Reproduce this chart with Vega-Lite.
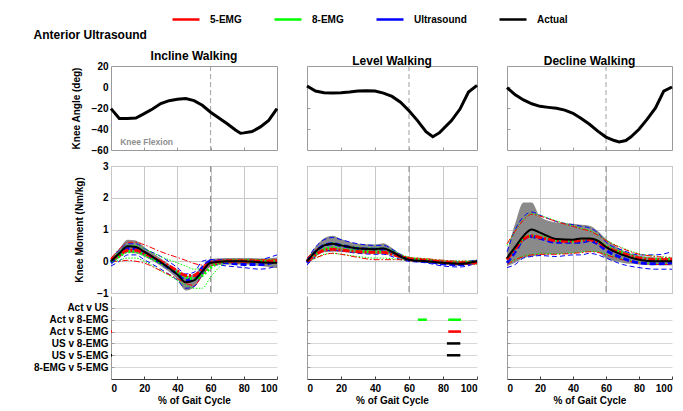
{
"$schema": "https://vega.github.io/schema/vega-lite/v6.json",
"background": "white",
"padding": {"left": 33, "top": 4, "right": 5, "bottom": 4},
"title": {"text": "Anterior Ultrasound", "anchor": "start", "fontSize": 12, "offset": 8, "dy": 45.5},
"config": {
  "font": "Liberation Sans",
  "view": {"stroke": "#9a9a9a"},
  "title": {"font": "Liberation Sans", "fontSize": 12, "fontWeight": "bold", "color": "black"},
  "axis": {"labelFont": "Liberation Sans", "labelFontSize": 10, "labelFontWeight": "bold", "labelColor": "black", "titleFont": "Liberation Sans", "titleFontSize": 10, "titleFontWeight": "bold", "titleColor": "black", "domain": false, "ticks": false, "grid": false, "labelPadding": 3, "labelOverlap": false},
  "legend": {"symbolType": "stroke", "symbolSize": 729, "symbolStrokeWidth": 2.5, "symbolDash": [1, 0], "labelFont": "Liberation Sans", "labelFontSize": 10, "labelFontWeight": "bold", "labelColor": "black", "columnPadding": 27, "labelOffset": 9, "padding": 0}
},
"datasets": {
  "toeoff": [{"x": 60}],
  "annot": [{"x": 5.5, "y": -52.3, "label": "Knee Flexion"}],
  "angle": [
    {"panel":"Incline","x":0,"angle":-20.6},{"panel":"Incline","x":5,"angle":-30},{"panel":"Incline","x":10,"angle":-30},{"panel":"Incline","x":15,"angle":-29.5},{"panel":"Incline","x":20,"angle":-25.4},{"panel":"Incline","x":25,"angle":-21},{"panel":"Incline","x":30,"angle":-15.8},{"panel":"Incline","x":35,"angle":-13},{"panel":"Incline","x":40,"angle":-11.7},{"panel":"Incline","x":45,"angle":-11},{"panel":"Incline","x":50,"angle":-13},{"panel":"Incline","x":55,"angle":-17.4},{"panel":"Incline","x":60,"angle":-24},{"panel":"Incline","x":65,"angle":-29.5},{"panel":"Incline","x":70,"angle":-35},{"panel":"Incline","x":75,"angle":-41},{"panel":"Incline","x":78,"angle":-44},{"panel":"Incline","x":80,"angle":-43.7},{"panel":"Incline","x":85,"angle":-42.4},{"panel":"Incline","x":90,"angle":-38},{"panel":"Incline","x":95,"angle":-31.8},{"panel":"Incline","x":100,"angle":-20.6},
    {"panel":"Level","x":0,"angle":1},{"panel":"Level","x":5,"angle":-3.9},{"panel":"Level","x":10,"angle":-5.5},{"panel":"Level","x":15,"angle":-5.8},{"panel":"Level","x":20,"angle":-5.5},{"panel":"Level","x":25,"angle":-4.8},{"panel":"Level","x":30,"angle":-3.9},{"panel":"Level","x":35,"angle":-3.5},{"panel":"Level","x":40,"angle":-3.9},{"panel":"Level","x":45,"angle":-5.8},{"panel":"Level","x":50,"angle":-9},{"panel":"Level","x":55,"angle":-14.5},{"panel":"Level","x":60,"angle":-22.6},{"panel":"Level","x":65,"angle":-32},{"panel":"Level","x":70,"angle":-42.5},{"panel":"Level","x":74,"angle":-47.4},{"panel":"Level","x":78,"angle":-43.5},{"panel":"Level","x":85,"angle":-32},{"panel":"Level","x":90,"angle":-21},{"panel":"Level","x":95,"angle":-4.8},{"panel":"Level","x":100,"angle":1.6},
    {"panel":"Decline","x":0,"angle":-0.6},{"panel":"Decline","x":5,"angle":-7.4},{"panel":"Decline","x":10,"angle":-12.3},{"panel":"Decline","x":15,"angle":-16},{"panel":"Decline","x":20,"angle":-18.4},{"panel":"Decline","x":25,"angle":-19.4},{"panel":"Decline","x":30,"angle":-20.3},{"panel":"Decline","x":35,"angle":-22},{"panel":"Decline","x":40,"angle":-25},{"panel":"Decline","x":45,"angle":-30},{"panel":"Decline","x":50,"angle":-35.5},{"panel":"Decline","x":55,"angle":-42},{"panel":"Decline","x":60,"angle":-47.7},{"panel":"Decline","x":65,"angle":-51},{"panel":"Decline","x":68,"angle":-52.3},{"panel":"Decline","x":72,"angle":-51},{"panel":"Decline","x":75,"angle":-47.7},{"panel":"Decline","x":80,"angle":-40.3},{"panel":"Decline","x":85,"angle":-30.6},{"panel":"Decline","x":90,"angle":-20},{"panel":"Decline","x":95,"angle":-4},{"panel":"Decline","x":100,"angle":0}
  ],
  "sig": [
    {"panel":"Incline","comp":"Act v 5-EMG","start":0,"end":0.6},
    {"panel":"Incline","comp":"US v 5-EMG","start":0,"end":0.6},
    {"panel":"Level","comp":"Act v 8-EMG","start":65.2,"end":70.5},
    {"panel":"Level","comp":"Act v 8-EMG","start":83.1,"end":90.6},
    {"panel":"Level","comp":"Act v 5-EMG","start":83.1,"end":90.6},
    {"panel":"Level","comp":"US v 8-EMG","start":82.3,"end":90.2},
    {"panel":"Level","comp":"US v 5-EMG","start":82.3,"end":90.2}
  ],
  "moment": [
    {"panel":"Incline","series":"Actual","x":0,"mean":0,"lo":-0.1,"hi":0.1},
    {"panel":"Incline","series":"Actual","x":5,"mean":0.25,"lo":0.1,"hi":0.4},
    {"panel":"Incline","series":"Actual","x":10,"mean":0.47,"lo":0.27,"hi":0.68},
    {"panel":"Incline","series":"Actual","x":15,"mean":0.45,"lo":0.25,"hi":0.65},
    {"panel":"Incline","series":"Actual","x":20,"mean":0.3,"lo":0.15,"hi":0.45},
    {"panel":"Incline","series":"Actual","x":30,"mean":-0.03,"lo":-0.15,"hi":0.09},
    {"panel":"Incline","series":"Actual","x":40,"mean":-0.42,"lo":-0.57,"hi":-0.27},
    {"panel":"Incline","series":"Actual","x":45,"mean":-0.66,"lo":-0.92,"hi":-0.46},
    {"panel":"Incline","series":"Actual","x":50,"mean":-0.6,"lo":-0.82,"hi":-0.4},
    {"panel":"Incline","series":"Actual","x":55,"mean":-0.32,"lo":-0.48,"hi":-0.16},
    {"panel":"Incline","series":"Actual","x":60,"mean":-0.05,"lo":-0.17,"hi":0.07},
    {"panel":"Incline","series":"Actual","x":70,"mean":0,"lo":-0.1,"hi":0.1},
    {"panel":"Incline","series":"Actual","x":80,"mean":0,"lo":-0.1,"hi":0.1},
    {"panel":"Incline","series":"Actual","x":90,"mean":-0.03,"lo":-0.15,"hi":0.09},
    {"panel":"Incline","series":"Actual","x":100,"mean":-0.05,"lo":-0.22,"hi":0.12},
    {"panel":"Incline","series":"5-EMG","x":0,"mean":0.05,"lo":0,"hi":0.1},
    {"panel":"Incline","series":"5-EMG","x":5,"mean":0.2,"lo":0,"hi":0.38},
    {"panel":"Incline","series":"5-EMG","x":10,"mean":0.35,"lo":0.03,"hi":0.6},
    {"panel":"Incline","series":"5-EMG","x":15,"mean":0.35,"lo":0,"hi":0.6},
    {"panel":"Incline","series":"5-EMG","x":20,"mean":0.25,"lo":-0.06,"hi":0.52},
    {"panel":"Incline","series":"5-EMG","x":30,"mean":0,"lo":-0.3,"hi":0.3},
    {"panel":"Incline","series":"5-EMG","x":40,"mean":-0.3,"lo":-0.55,"hi":0.12},
    {"panel":"Incline","series":"5-EMG","x":45,"mean":-0.45,"lo":-0.7,"hi":0.03},
    {"panel":"Incline","series":"5-EMG","x":50,"mean":-0.45,"lo":-0.76,"hi":-0.07},
    {"panel":"Incline","series":"5-EMG","x":55,"mean":-0.25,"lo":-0.45,"hi":-0.12},
    {"panel":"Incline","series":"5-EMG","x":60,"mean":-0.05,"lo":-0.15,"hi":0},
    {"panel":"Incline","series":"5-EMG","x":70,"mean":0,"lo":-0.05,"hi":0.05},
    {"panel":"Incline","series":"5-EMG","x":80,"mean":0,"lo":-0.05,"hi":0.05},
    {"panel":"Incline","series":"5-EMG","x":90,"mean":0,"lo":-0.05,"hi":0.05},
    {"panel":"Incline","series":"5-EMG","x":100,"mean":0,"lo":-0.05,"hi":0.05},
    {"panel":"Incline","series":"8-EMG","x":0,"mean":0,"lo":-0.05,"hi":0.1},
    {"panel":"Incline","series":"8-EMG","x":5,"mean":0.15,"lo":0.03,"hi":0.3},
    {"panel":"Incline","series":"8-EMG","x":10,"mean":0.3,"lo":0.1,"hi":0.5},
    {"panel":"Incline","series":"8-EMG","x":15,"mean":0.3,"lo":0.1,"hi":0.5},
    {"panel":"Incline","series":"8-EMG","x":20,"mean":0.2,"lo":0,"hi":0.4},
    {"panel":"Incline","series":"8-EMG","x":30,"mean":-0.05,"lo":-0.3,"hi":0.15},
    {"panel":"Incline","series":"8-EMG","x":40,"mean":-0.35,"lo":-0.6,"hi":-0.05},
    {"panel":"Incline","series":"8-EMG","x":45,"mean":-0.5,"lo":-0.75,"hi":-0.15},
    {"panel":"Incline","series":"8-EMG","x":50,"mean":-0.55,"lo":-0.85,"hi":-0.25},
    {"panel":"Incline","series":"8-EMG","x":55,"mean":-0.45,"lo":-0.85,"hi":-0.22},
    {"panel":"Incline","series":"8-EMG","x":60,"mean":-0.2,"lo":-0.5,"hi":-0.08},
    {"panel":"Incline","series":"8-EMG","x":70,"mean":0,"lo":-0.05,"hi":0.05},
    {"panel":"Incline","series":"8-EMG","x":80,"mean":0,"lo":-0.05,"hi":0.05},
    {"panel":"Incline","series":"8-EMG","x":90,"mean":0,"lo":-0.05,"hi":0.05},
    {"panel":"Incline","series":"8-EMG","x":100,"mean":0,"lo":-0.05,"hi":0.05},
    {"panel":"Incline","series":"Ultrasound","x":0,"mean":-0.05,"lo":-0.15,"hi":0.05},
    {"panel":"Incline","series":"Ultrasound","x":5,"mean":0.2,"lo":0,"hi":0.35},
    {"panel":"Incline","series":"Ultrasound","x":10,"mean":0.4,"lo":0.2,"hi":0.55},
    {"panel":"Incline","series":"Ultrasound","x":15,"mean":0.4,"lo":0.2,"hi":0.55},
    {"panel":"Incline","series":"Ultrasound","x":20,"mean":0.25,"lo":0.05,"hi":0.4},
    {"panel":"Incline","series":"Ultrasound","x":30,"mean":-0.05,"lo":-0.25,"hi":0.15},
    {"panel":"Incline","series":"Ultrasound","x":40,"mean":-0.4,"lo":-0.6,"hi":-0.2},
    {"panel":"Incline","series":"Ultrasound","x":45,"mean":-0.6,"lo":-0.85,"hi":-0.4},
    {"panel":"Incline","series":"Ultrasound","x":50,"mean":-0.55,"lo":-0.8,"hi":-0.35},
    {"panel":"Incline","series":"Ultrasound","x":55,"mean":-0.2,"lo":-0.4,"hi":0},
    {"panel":"Incline","series":"Ultrasound","x":60,"mean":0,"lo":-0.1,"hi":0.05},
    {"panel":"Incline","series":"Ultrasound","x":70,"mean":-0.05,"lo":-0.15,"hi":0.05},
    {"panel":"Incline","series":"Ultrasound","x":80,"mean":-0.1,"lo":-0.2,"hi":0},
    {"panel":"Incline","series":"Ultrasound","x":90,"mean":-0.1,"lo":-0.25,"hi":0.05},
    {"panel":"Incline","series":"Ultrasound","x":100,"mean":0,"lo":-0.15,"hi":0.2},
    {"panel":"Level","series":"Actual","x":0,"mean":0,"lo":-0.08,"hi":0.08},
    {"panel":"Level","series":"Actual","x":5,"mean":0.3,"lo":0.15,"hi":0.45},
    {"panel":"Level","series":"Actual","x":10,"mean":0.5,"lo":0.28,"hi":0.72},
    {"panel":"Level","series":"Actual","x":15,"mean":0.55,"lo":0.3,"hi":0.8},
    {"panel":"Level","series":"Actual","x":20,"mean":0.5,"lo":0.3,"hi":0.7},
    {"panel":"Level","series":"Actual","x":30,"mean":0.4,"lo":0.25,"hi":0.55},
    {"panel":"Level","series":"Actual","x":40,"mean":0.38,"lo":0.23,"hi":0.53},
    {"panel":"Level","series":"Actual","x":45,"mean":0.4,"lo":0.23,"hi":0.57},
    {"panel":"Level","series":"Actual","x":50,"mean":0.3,"lo":0.18,"hi":0.42},
    {"panel":"Level","series":"Actual","x":55,"mean":0.15,"lo":0.07,"hi":0.23},
    {"panel":"Level","series":"Actual","x":60,"mean":0.05,"lo":0,"hi":0.1},
    {"panel":"Level","series":"Actual","x":70,"mean":0,"lo":-0.05,"hi":0.05},
    {"panel":"Level","series":"Actual","x":80,"mean":-0.05,"lo":-0.1,"hi":0},
    {"panel":"Level","series":"Actual","x":90,"mean":-0.08,"lo":-0.14,"hi":-0.02},
    {"panel":"Level","series":"Actual","x":100,"mean":0,"lo":-0.05,"hi":0.05},
    {"panel":"Level","series":"5-EMG","x":0,"mean":0,"lo":-0.05,"hi":0.1},
    {"panel":"Level","series":"5-EMG","x":5,"mean":0.2,"lo":0.1,"hi":0.35},
    {"panel":"Level","series":"5-EMG","x":10,"mean":0.35,"lo":0.2,"hi":0.5},
    {"panel":"Level","series":"5-EMG","x":15,"mean":0.38,"lo":0.25,"hi":0.55},
    {"panel":"Level","series":"5-EMG","x":20,"mean":0.35,"lo":0.22,"hi":0.5},
    {"panel":"Level","series":"5-EMG","x":30,"mean":0.3,"lo":0.12,"hi":0.42},
    {"panel":"Level","series":"5-EMG","x":40,"mean":0.28,"lo":0.05,"hi":0.4},
    {"panel":"Level","series":"5-EMG","x":45,"mean":0.28,"lo":0.05,"hi":0.38},
    {"panel":"Level","series":"5-EMG","x":50,"mean":0.22,"lo":0.05,"hi":0.3},
    {"panel":"Level","series":"5-EMG","x":55,"mean":0.15,"lo":0.05,"hi":0.2},
    {"panel":"Level","series":"5-EMG","x":60,"mean":0.08,"lo":0.02,"hi":0.12},
    {"panel":"Level","series":"5-EMG","x":70,"mean":0.03,"lo":-0.02,"hi":0.08},
    {"panel":"Level","series":"5-EMG","x":80,"mean":-0.02,"lo":-0.07,"hi":0.03},
    {"panel":"Level","series":"5-EMG","x":90,"mean":-0.05,"lo":-0.1,"hi":0},
    {"panel":"Level","series":"5-EMG","x":100,"mean":-0.05,"lo":-0.1,"hi":0},
    {"panel":"Level","series":"8-EMG","x":0,"mean":0,"lo":-0.05,"hi":0.1},
    {"panel":"Level","series":"8-EMG","x":5,"mean":0.22,"lo":0.1,"hi":0.35},
    {"panel":"Level","series":"8-EMG","x":10,"mean":0.38,"lo":0.22,"hi":0.52},
    {"panel":"Level","series":"8-EMG","x":15,"mean":0.42,"lo":0.25,"hi":0.58},
    {"panel":"Level","series":"8-EMG","x":20,"mean":0.38,"lo":0.22,"hi":0.52},
    {"panel":"Level","series":"8-EMG","x":30,"mean":0.33,"lo":0.15,"hi":0.45},
    {"panel":"Level","series":"8-EMG","x":40,"mean":0.3,"lo":0.1,"hi":0.42},
    {"panel":"Level","series":"8-EMG","x":45,"mean":0.3,"lo":0.1,"hi":0.42},
    {"panel":"Level","series":"8-EMG","x":50,"mean":0.25,"lo":0.08,"hi":0.35},
    {"panel":"Level","series":"8-EMG","x":55,"mean":0.15,"lo":0.05,"hi":0.22},
    {"panel":"Level","series":"8-EMG","x":60,"mean":0.08,"lo":0.02,"hi":0.13},
    {"panel":"Level","series":"8-EMG","x":70,"mean":0.03,"lo":-0.02,"hi":0.08},
    {"panel":"Level","series":"8-EMG","x":80,"mean":-0.02,"lo":-0.07,"hi":0.03},
    {"panel":"Level","series":"8-EMG","x":90,"mean":-0.04,"lo":-0.09,"hi":0.01},
    {"panel":"Level","series":"8-EMG","x":100,"mean":-0.04,"lo":-0.09,"hi":0.01},
    {"panel":"Level","series":"Ultrasound","x":0,"mean":-0.05,"lo":-0.12,"hi":0.05},
    {"panel":"Level","series":"Ultrasound","x":5,"mean":0.3,"lo":0.15,"hi":0.45},
    {"panel":"Level","series":"Ultrasound","x":10,"mean":0.5,"lo":0.32,"hi":0.68},
    {"panel":"Level","series":"Ultrasound","x":15,"mean":0.55,"lo":0.35,"hi":0.75},
    {"panel":"Level","series":"Ultrasound","x":20,"mean":0.5,"lo":0.32,"hi":0.68},
    {"panel":"Level","series":"Ultrasound","x":30,"mean":0.4,"lo":0.25,"hi":0.55},
    {"panel":"Level","series":"Ultrasound","x":40,"mean":0.38,"lo":0.22,"hi":0.5},
    {"panel":"Level","series":"Ultrasound","x":45,"mean":0.38,"lo":0.22,"hi":0.5},
    {"panel":"Level","series":"Ultrasound","x":50,"mean":0.28,"lo":0.15,"hi":0.38},
    {"panel":"Level","series":"Ultrasound","x":55,"mean":0.15,"lo":0.05,"hi":0.22},
    {"panel":"Level","series":"Ultrasound","x":60,"mean":0.05,"lo":0,"hi":0.1},
    {"panel":"Level","series":"Ultrasound","x":70,"mean":0,"lo":-0.05,"hi":0.05},
    {"panel":"Level","series":"Ultrasound","x":80,"mean":-0.08,"lo":-0.15,"hi":0},
    {"panel":"Level","series":"Ultrasound","x":90,"mean":-0.1,"lo":-0.18,"hi":-0.02},
    {"panel":"Level","series":"Ultrasound","x":100,"mean":0,"lo":-0.05,"hi":0.05},
    {"panel":"Decline","series":"Actual","x":0,"mean":0.1,"lo":-0.15,"hi":0.3},
    {"panel":"Decline","series":"Actual","x":5,"mean":0.45,"lo":-0.05,"hi":1.2},
    {"panel":"Decline","series":"Actual","x":10,"mean":0.8,"lo":0.1,"hi":1.85},
    {"panel":"Decline","series":"Actual","x":15,"mean":1.0,"lo":0.15,"hi":1.85},
    {"panel":"Decline","series":"Actual","x":20,"mean":0.9,"lo":0.2,"hi":1.4},
    {"panel":"Decline","series":"Actual","x":30,"mean":0.7,"lo":0.22,"hi":1.22},
    {"panel":"Decline","series":"Actual","x":40,"mean":0.68,"lo":0.25,"hi":1.18},
    {"panel":"Decline","series":"Actual","x":45,"mean":0.72,"lo":0.28,"hi":1.15},
    {"panel":"Decline","series":"Actual","x":50,"mean":0.72,"lo":0.3,"hi":1.12},
    {"panel":"Decline","series":"Actual","x":55,"mean":0.65,"lo":0.28,"hi":0.95},
    {"panel":"Decline","series":"Actual","x":60,"mean":0.45,"lo":0.1,"hi":0.7},
    {"panel":"Decline","series":"Actual","x":70,"mean":0.2,"lo":-0.05,"hi":0.35},
    {"panel":"Decline","series":"Actual","x":80,"mean":0.05,"lo":-0.1,"hi":0.18},
    {"panel":"Decline","series":"Actual","x":90,"mean":0,"lo":-0.12,"hi":0.12},
    {"panel":"Decline","series":"Actual","x":100,"mean":0,"lo":-0.13,"hi":0.1},
    {"panel":"Decline","series":"5-EMG","x":0,"mean":0.05,"lo":-0.1,"hi":0.55},
    {"panel":"Decline","series":"5-EMG","x":5,"mean":0.4,"lo":0.05,"hi":0.95},
    {"panel":"Decline","series":"5-EMG","x":10,"mean":0.7,"lo":0.15,"hi":1.3},
    {"panel":"Decline","series":"5-EMG","x":15,"mean":0.8,"lo":0.2,"hi":1.48},
    {"panel":"Decline","series":"5-EMG","x":20,"mean":0.75,"lo":0.22,"hi":1.42},
    {"panel":"Decline","series":"5-EMG","x":30,"mean":0.65,"lo":0.22,"hi":1.25},
    {"panel":"Decline","series":"5-EMG","x":40,"mean":0.63,"lo":0.25,"hi":1.1},
    {"panel":"Decline","series":"5-EMG","x":45,"mean":0.66,"lo":0.27,"hi":1.02},
    {"panel":"Decline","series":"5-EMG","x":50,"mean":0.68,"lo":0.3,"hi":0.95},
    {"panel":"Decline","series":"5-EMG","x":55,"mean":0.6,"lo":0.28,"hi":0.82},
    {"panel":"Decline","series":"5-EMG","x":60,"mean":0.45,"lo":0.2,"hi":0.65},
    {"panel":"Decline","series":"5-EMG","x":70,"mean":0.25,"lo":0.05,"hi":0.4},
    {"panel":"Decline","series":"5-EMG","x":80,"mean":0.1,"lo":-0.05,"hi":0.22},
    {"panel":"Decline","series":"5-EMG","x":90,"mean":0.05,"lo":-0.1,"hi":0.15},
    {"panel":"Decline","series":"5-EMG","x":100,"mean":0.05,"lo":-0.1,"hi":0.1},
    {"panel":"Decline","series":"8-EMG","x":0,"mean":0.05,"lo":-0.08,"hi":0.5},
    {"panel":"Decline","series":"8-EMG","x":5,"mean":0.42,"lo":0.07,"hi":0.95},
    {"panel":"Decline","series":"8-EMG","x":10,"mean":0.72,"lo":0.17,"hi":1.32},
    {"panel":"Decline","series":"8-EMG","x":15,"mean":0.8,"lo":0.22,"hi":1.5},
    {"panel":"Decline","series":"8-EMG","x":20,"mean":0.77,"lo":0.24,"hi":1.44},
    {"panel":"Decline","series":"8-EMG","x":30,"mean":0.66,"lo":0.24,"hi":1.27},
    {"panel":"Decline","series":"8-EMG","x":40,"mean":0.64,"lo":0.27,"hi":1.12},
    {"panel":"Decline","series":"8-EMG","x":45,"mean":0.66,"lo":0.29,"hi":1.04},
    {"panel":"Decline","series":"8-EMG","x":50,"mean":0.7,"lo":0.32,"hi":0.97},
    {"panel":"Decline","series":"8-EMG","x":55,"mean":0.63,"lo":0.3,"hi":0.84},
    {"panel":"Decline","series":"8-EMG","x":60,"mean":0.47,"lo":0.22,"hi":0.67},
    {"panel":"Decline","series":"8-EMG","x":70,"mean":0.27,"lo":0.07,"hi":0.42},
    {"panel":"Decline","series":"8-EMG","x":80,"mean":0.12,"lo":-0.03,"hi":0.24},
    {"panel":"Decline","series":"8-EMG","x":90,"mean":0.06,"lo":-0.08,"hi":0.16},
    {"panel":"Decline","series":"8-EMG","x":100,"mean":0.05,"lo":-0.08,"hi":0.12},
    {"panel":"Decline","series":"Ultrasound","x":0,"mean":-0.05,"lo":-0.2,"hi":0.3},
    {"panel":"Decline","series":"Ultrasound","x":5,"mean":0.3,"lo":-0.1,"hi":1.0},
    {"panel":"Decline","series":"Ultrasound","x":10,"mean":0.7,"lo":0.1,"hi":1.4},
    {"panel":"Decline","series":"Ultrasound","x":15,"mean":0.78,"lo":0.15,"hi":1.55},
    {"panel":"Decline","series":"Ultrasound","x":20,"mean":0.72,"lo":0.18,"hi":1.45},
    {"panel":"Decline","series":"Ultrasound","x":30,"mean":0.6,"lo":0.15,"hi":1.25},
    {"panel":"Decline","series":"Ultrasound","x":40,"mean":0.6,"lo":0.2,"hi":1.15},
    {"panel":"Decline","series":"Ultrasound","x":45,"mean":0.6,"lo":0.2,"hi":1.1},
    {"panel":"Decline","series":"Ultrasound","x":50,"mean":0.65,"lo":0.25,"hi":1.05},
    {"panel":"Decline","series":"Ultrasound","x":55,"mean":0.55,"lo":0.2,"hi":0.9},
    {"panel":"Decline","series":"Ultrasound","x":60,"mean":0.35,"lo":0.1,"hi":0.6},
    {"panel":"Decline","series":"Ultrasound","x":70,"mean":0.1,"lo":-0.1,"hi":0.35},
    {"panel":"Decline","series":"Ultrasound","x":80,"mean":-0.05,"lo":-0.2,"hi":0.2},
    {"panel":"Decline","series":"Ultrasound","x":90,"mean":-0.08,"lo":-0.25,"hi":0.2},
    {"panel":"Decline","series":"Ultrasound","x":100,"mean":-0.05,"lo":-0.25,"hi":0.3}
  ]
},
"columns": 3,
"bounds": "flush",
"align": "each",
"spacing": {"row": 3, "column": 30},
"resolve": {"scale": {"color": "shared", "stroke": "shared"}, "legend": {"color": "shared"}},
"concat": [
  {"width": 166, "height": 84, "title": {"text": "Incline Walking", "offset": -2},
   "layer": [
    {"data": {"name": "toeoff"}, "mark": {"type": "rule", "color": "#a0a0a0", "strokeDash": [5, 3], "strokeWidth": 1},
     "encoding": {"x": {"field": "x", "type": "quantitative", "scale": {"domain": [0, 100], "nice": false}, "axis": {"values": [20, 40, 60, 80], "tickCount": 20, "labels": false, "title": null, "ticks": true, "tickSize": -3, "tickColor": "#9a9a9a"}}}},
    {"data": {"name": "angle"}, "transform": [{"filter": "datum.panel === 'Incline'"}], "mark": {"type": "line", "color": "black", "strokeWidth": 3},
     "encoding": {"x": {"field": "x", "type": "quantitative"}, "y": {"field": "angle", "type": "quantitative", "scale": {"domain": [-60, 20], "nice": false}, "axis": {"values": [-60, -40, -20, 0, 20], "tickCount": 20, "format": "d", "title": "Knee Angle (deg)", "titlePadding": 10}}}},
    {"data": {"name": "annot"}, "mark": {"type": "text", "align": "left", "baseline": "middle", "color": "#8f8f8f", "fontSize": 8.5, "fontWeight": "bold", "font": "Liberation Sans"},
     "encoding": {"x": {"field": "x", "type": "quantitative"}, "y": {"field": "y", "type": "quantitative"}, "text": {"field": "label"}}}
   ]},
  {"width": 170, "height": 84, "title": {"text": "Level Walking", "offset": -2},
   "layer": [
    {"data": {"name": "toeoff"}, "mark": {"type": "rule", "color": "#a0a0a0", "strokeDash": [5, 3], "strokeWidth": 1},
     "encoding": {"x": {"field": "x", "type": "quantitative", "scale": {"domain": [0, 100], "nice": false}, "axis": {"values": [20, 40, 60, 80], "tickCount": 20, "labels": false, "title": null, "ticks": true, "tickSize": -3, "tickColor": "#9a9a9a"}}}},
    {"data": {"name": "angle"}, "transform": [{"filter": "datum.panel === 'Level'"}], "mark": {"type": "line", "color": "black", "strokeWidth": 3},
     "encoding": {"x": {"field": "x", "type": "quantitative"}, "y": {"field": "angle", "type": "quantitative", "scale": {"domain": [-60, 20], "nice": false}, "axis": {"values": [-40, -20, 0], "tickCount": 20, "labels": false, "title": null, "ticks": true, "tickSize": -3, "tickColor": "#9a9a9a"}}}}
   ]},
  {"width": 165, "height": 84, "title": {"text": "Decline Walking", "offset": -2},
   "layer": [
    {"data": {"name": "toeoff"}, "mark": {"type": "rule", "color": "#a0a0a0", "strokeDash": [5, 3], "strokeWidth": 1},
     "encoding": {"x": {"field": "x", "type": "quantitative", "scale": {"domain": [0, 100], "nice": false}, "axis": {"values": [20, 40, 60, 80], "tickCount": 20, "labels": false, "title": null, "ticks": true, "tickSize": -3, "tickColor": "#9a9a9a"}}}},
    {"data": {"name": "angle"}, "transform": [{"filter": "datum.panel === 'Decline'"}], "mark": {"type": "line", "color": "black", "strokeWidth": 3},
     "encoding": {"x": {"field": "x", "type": "quantitative"}, "y": {"field": "angle", "type": "quantitative", "scale": {"domain": [-60, 20], "nice": false}, "axis": {"values": [-40, -20, 0], "tickCount": 20, "labels": false, "title": null, "ticks": true, "tickSize": -3, "tickColor": "#9a9a9a"}}}}
   ]},
  {"width": 166, "height": 10, "view": {"stroke": null}, "data": {"values": []}, "mark": "point"},
  {"width": 170, "height": 10, "view": {"stroke": null}, "data": {"values": []}, "mark": "point"},
  {"width": 165, "height": 10, "view": {"stroke": null}, "data": {"values": []}, "mark": "point"},
  {"width": 166, "height": 127,
   "layer": [
    {"data": {"name": "moment"}, "transform": [{"filter": "datum.panel === 'Incline' && datum.series === 'Actual'"}], "mark": {"type": "area", "color": "#8a8a8a", "opacity": 1, "interpolate": "monotone"},
     "encoding": {"x": {"field": "x", "type": "quantitative", "scale": {"domain": [0, 100], "nice": false}, "axis": {"values": [0, 20, 40, 60, 80, 100], "tickCount": 20, "labels": false, "title": null, "grid": true, "gridColor": "#c8c8c8"}},
      "y": {"field": "lo", "type": "quantitative", "scale": {"domain": [-1, 3], "nice": false}, "axis": {"values": [-1, 0, 1, 2, 3], "tickCount": 20, "format": "d", "grid": true, "gridColor": "#c8c8c8", "title": "Knee Moment (Nm/kg)", "titlePadding": 12}}, "y2": {"field": "hi"}}},
    {"data": {"name": "toeoff"}, "mark": {"type": "rule", "color": "#8a8a8a", "strokeDash": [6, 4], "strokeWidth": 1}, "encoding": {"x": {"field": "x", "type": "quantitative"}}},
    {"data": {"name": "moment"}, "transform": [{"filter": "datum.panel === 'Incline' && datum.series === 'Ultrasound'"}, {"fold": ["lo", "hi"], "as": ["stat", "value"]}], "mark": {"type": "line", "strokeDash": [5, 3], "strokeWidth": 1, "interpolate": "monotone"},
     "encoding": {"x": {"field": "x", "type": "quantitative"}, "y": {"field": "value", "type": "quantitative"}, "detail": {"field": "stat"},
      "color": {"field": "series", "type": "nominal", "scale": {"domain": ["5-EMG", "8-EMG", "Ultrasound", "Actual"], "range": ["#ff0000", "#00ff00", "#0000ff", "#000000"]}, "legend": {"title": null, "orient": "none", "legendX": 60, "legendY": -61.5, "direction": "horizontal", "symbolStrokeWidth": 2.5, "symbolDash": [1, 0], "encode": {"symbols": {"update": {"strokeDash": {"value": [1, 0]}}}}}}}},
    {"data": {"name": "moment"}, "transform": [{"filter": "datum.panel === 'Incline' && datum.series === '8-EMG'"}, {"fold": ["lo", "hi"], "as": ["stat", "value"]}], "mark": {"type": "line", "strokeDash": [1.5, 1.5], "strokeWidth": 1, "interpolate": "monotone"},
     "encoding": {"x": {"field": "x", "type": "quantitative"}, "y": {"field": "value", "type": "quantitative"}, "detail": {"field": "stat"}, "color": {"field": "series", "type": "nominal"}}},
    {"data": {"name": "moment"}, "transform": [{"filter": "datum.panel === 'Incline' && datum.series === '5-EMG'"}, {"fold": ["lo", "hi"], "as": ["stat", "value"]}], "mark": {"type": "line", "strokeDash": [6, 2, 1.5, 2], "strokeWidth": 1, "interpolate": "monotone"},
     "encoding": {"x": {"field": "x", "type": "quantitative"}, "y": {"field": "value", "type": "quantitative"}, "detail": {"field": "stat"}, "color": {"field": "series", "type": "nominal"}}},
    {"data": {"name": "moment"}, "transform": [{"filter": "datum.panel === 'Incline' && datum.series === 'Ultrasound'"}], "mark": {"type": "line", "strokeDash": [6, 3], "strokeWidth": 3, "interpolate": "monotone"},
     "encoding": {"x": {"field": "x", "type": "quantitative"}, "y": {"field": "mean", "type": "quantitative"}, "color": {"field": "series", "type": "nominal"}}},
    {"data": {"name": "moment"}, "transform": [{"filter": "datum.panel === 'Incline' && datum.series === '8-EMG'"}], "mark": {"type": "line", "strokeDash": [2, 2], "strokeWidth": 3, "interpolate": "monotone"},
     "encoding": {"x": {"field": "x", "type": "quantitative"}, "y": {"field": "mean", "type": "quantitative"}, "color": {"field": "series", "type": "nominal"}}},
    {"data": {"name": "moment"}, "transform": [{"filter": "datum.panel === 'Incline' && datum.series === '5-EMG'"}], "mark": {"type": "line", "strokeDash": [7, 2, 2, 2], "strokeWidth": 3, "interpolate": "monotone"},
     "encoding": {"x": {"field": "x", "type": "quantitative"}, "y": {"field": "mean", "type": "quantitative"}, "color": {"field": "series", "type": "nominal"}}},
    {"data": {"name": "moment"}, "transform": [{"filter": "datum.panel === 'Incline' && datum.series === 'Actual'"}], "mark": {"type": "line", "strokeWidth": 2, "interpolate": "monotone"},
     "encoding": {"x": {"field": "x", "type": "quantitative"}, "y": {"field": "mean", "type": "quantitative"}, "color": {"field": "series", "type": "nominal"}}}
   ]},
  {"width": 170, "height": 127,
   "layer": [
    {"data": {"name": "moment"}, "transform": [{"filter": "datum.panel === 'Level' && datum.series === 'Actual'"}], "mark": {"type": "area", "color": "#8a8a8a", "opacity": 1, "interpolate": "monotone"},
     "encoding": {"x": {"field": "x", "type": "quantitative", "scale": {"domain": [0, 100], "nice": false}, "axis": {"values": [0, 20, 40, 60, 80, 100], "tickCount": 20, "labels": false, "title": null, "grid": true, "gridColor": "#c8c8c8"}},
      "y": {"field": "lo", "type": "quantitative", "scale": {"domain": [-1, 3], "nice": false}, "axis": {"values": [-1, 0, 1, 2, 3], "tickCount": 20, "grid": true, "gridColor": "#c8c8c8", "labels": false, "title": null}}, "y2": {"field": "hi"}}},
    {"data": {"name": "toeoff"}, "mark": {"type": "rule", "color": "#8a8a8a", "strokeDash": [6, 4], "strokeWidth": 1}, "encoding": {"x": {"field": "x", "type": "quantitative"}}},
    {"data": {"name": "moment"}, "transform": [{"filter": "datum.panel === 'Level' && datum.series === 'Ultrasound'"}, {"fold": ["lo", "hi"], "as": ["stat", "value"]}], "mark": {"type": "line", "strokeDash": [5, 3], "strokeWidth": 1, "interpolate": "monotone"},
     "encoding": {"x": {"field": "x", "type": "quantitative"}, "y": {"field": "value", "type": "quantitative"}, "detail": {"field": "stat"}, "color": {"field": "series", "type": "nominal"}}},
    {"data": {"name": "moment"}, "transform": [{"filter": "datum.panel === 'Level' && datum.series === '8-EMG'"}, {"fold": ["lo", "hi"], "as": ["stat", "value"]}], "mark": {"type": "line", "strokeDash": [1.5, 1.5], "strokeWidth": 1, "interpolate": "monotone"},
     "encoding": {"x": {"field": "x", "type": "quantitative"}, "y": {"field": "value", "type": "quantitative"}, "detail": {"field": "stat"}, "color": {"field": "series", "type": "nominal"}}},
    {"data": {"name": "moment"}, "transform": [{"filter": "datum.panel === 'Level' && datum.series === '5-EMG'"}, {"fold": ["lo", "hi"], "as": ["stat", "value"]}], "mark": {"type": "line", "strokeDash": [6, 2, 1.5, 2], "strokeWidth": 1, "interpolate": "monotone"},
     "encoding": {"x": {"field": "x", "type": "quantitative"}, "y": {"field": "value", "type": "quantitative"}, "detail": {"field": "stat"}, "color": {"field": "series", "type": "nominal"}}},
    {"data": {"name": "moment"}, "transform": [{"filter": "datum.panel === 'Level' && datum.series === 'Ultrasound'"}], "mark": {"type": "line", "strokeDash": [6, 3], "strokeWidth": 3, "interpolate": "monotone"},
     "encoding": {"x": {"field": "x", "type": "quantitative"}, "y": {"field": "mean", "type": "quantitative"}, "color": {"field": "series", "type": "nominal"}}},
    {"data": {"name": "moment"}, "transform": [{"filter": "datum.panel === 'Level' && datum.series === '8-EMG'"}], "mark": {"type": "line", "strokeDash": [2, 2], "strokeWidth": 3, "interpolate": "monotone"},
     "encoding": {"x": {"field": "x", "type": "quantitative"}, "y": {"field": "mean", "type": "quantitative"}, "color": {"field": "series", "type": "nominal"}}},
    {"data": {"name": "moment"}, "transform": [{"filter": "datum.panel === 'Level' && datum.series === '5-EMG'"}], "mark": {"type": "line", "strokeDash": [7, 2, 2, 2], "strokeWidth": 3, "interpolate": "monotone"},
     "encoding": {"x": {"field": "x", "type": "quantitative"}, "y": {"field": "mean", "type": "quantitative"}, "color": {"field": "series", "type": "nominal"}}},
    {"data": {"name": "moment"}, "transform": [{"filter": "datum.panel === 'Level' && datum.series === 'Actual'"}], "mark": {"type": "line", "strokeWidth": 2, "interpolate": "monotone"},
     "encoding": {"x": {"field": "x", "type": "quantitative"}, "y": {"field": "mean", "type": "quantitative"}, "color": {"field": "series", "type": "nominal"}}}
   ]},
  {"width": 165, "height": 127,
   "layer": [
    {"data": {"name": "moment"}, "transform": [{"filter": "datum.panel === 'Decline' && datum.series === 'Actual'"}], "mark": {"type": "area", "color": "#8a8a8a", "opacity": 1, "interpolate": "monotone"},
     "encoding": {"x": {"field": "x", "type": "quantitative", "scale": {"domain": [0, 100], "nice": false}, "axis": {"values": [0, 20, 40, 60, 80, 100], "tickCount": 20, "labels": false, "title": null, "grid": true, "gridColor": "#c8c8c8"}},
      "y": {"field": "lo", "type": "quantitative", "scale": {"domain": [-1, 3], "nice": false}, "axis": {"values": [-1, 0, 1, 2, 3], "tickCount": 20, "grid": true, "gridColor": "#c8c8c8", "labels": false, "title": null}}, "y2": {"field": "hi"}}},
    {"data": {"name": "toeoff"}, "mark": {"type": "rule", "color": "#8a8a8a", "strokeDash": [6, 4], "strokeWidth": 1}, "encoding": {"x": {"field": "x", "type": "quantitative"}}},
    {"data": {"name": "moment"}, "transform": [{"filter": "datum.panel === 'Decline' && datum.series === 'Ultrasound'"}, {"fold": ["lo", "hi"], "as": ["stat", "value"]}], "mark": {"type": "line", "strokeDash": [5, 3], "strokeWidth": 1, "interpolate": "monotone"},
     "encoding": {"x": {"field": "x", "type": "quantitative"}, "y": {"field": "value", "type": "quantitative"}, "detail": {"field": "stat"}, "color": {"field": "series", "type": "nominal"}}},
    {"data": {"name": "moment"}, "transform": [{"filter": "datum.panel === 'Decline' && datum.series === '8-EMG'"}, {"fold": ["lo", "hi"], "as": ["stat", "value"]}], "mark": {"type": "line", "strokeDash": [1.5, 1.5], "strokeWidth": 1, "interpolate": "monotone"},
     "encoding": {"x": {"field": "x", "type": "quantitative"}, "y": {"field": "value", "type": "quantitative"}, "detail": {"field": "stat"}, "color": {"field": "series", "type": "nominal"}}},
    {"data": {"name": "moment"}, "transform": [{"filter": "datum.panel === 'Decline' && datum.series === '5-EMG'"}, {"fold": ["lo", "hi"], "as": ["stat", "value"]}], "mark": {"type": "line", "strokeDash": [6, 2, 1.5, 2], "strokeWidth": 1, "interpolate": "monotone"},
     "encoding": {"x": {"field": "x", "type": "quantitative"}, "y": {"field": "value", "type": "quantitative"}, "detail": {"field": "stat"}, "color": {"field": "series", "type": "nominal"}}},
    {"data": {"name": "moment"}, "transform": [{"filter": "datum.panel === 'Decline' && datum.series === 'Ultrasound'"}], "mark": {"type": "line", "strokeDash": [6, 3], "strokeWidth": 3, "interpolate": "monotone"},
     "encoding": {"x": {"field": "x", "type": "quantitative"}, "y": {"field": "mean", "type": "quantitative"}, "color": {"field": "series", "type": "nominal"}}},
    {"data": {"name": "moment"}, "transform": [{"filter": "datum.panel === 'Decline' && datum.series === '8-EMG'"}], "mark": {"type": "line", "strokeDash": [2, 2], "strokeWidth": 3, "interpolate": "monotone"},
     "encoding": {"x": {"field": "x", "type": "quantitative"}, "y": {"field": "mean", "type": "quantitative"}, "color": {"field": "series", "type": "nominal"}}},
    {"data": {"name": "moment"}, "transform": [{"filter": "datum.panel === 'Decline' && datum.series === '5-EMG'"}], "mark": {"type": "line", "strokeDash": [7, 2, 2, 2], "strokeWidth": 3, "interpolate": "monotone"},
     "encoding": {"x": {"field": "x", "type": "quantitative"}, "y": {"field": "mean", "type": "quantitative"}, "color": {"field": "series", "type": "nominal"}}},
    {"data": {"name": "moment"}, "transform": [{"filter": "datum.panel === 'Decline' && datum.series === 'Actual'"}], "mark": {"type": "line", "strokeWidth": 2, "interpolate": "monotone"},
     "encoding": {"x": {"field": "x", "type": "quantitative"}, "y": {"field": "mean", "type": "quantitative"}, "color": {"field": "series", "type": "nominal"}}}
   ]},
  {"width": 166, "height": 83, "view": {"stroke": null},
   "data": {"name": "sig"}, "transform": [{"filter": "datum.panel === 'Incline'"}],
   "mark": {"type": "rule", "strokeWidth": 2.5},
   "encoding": {
     "x": {"field": "start", "type": "quantitative", "scale": {"domain": [0, 100], "nice": false}, "axis": {"values": [0, 20, 40, 60, 80, 100], "tickCount": 20, "title": "% of Gait Cycle", "titlePadding": 2, "domain": true, "domainColor": "#404040", "ticks": true, "tickSize": -3, "tickColor": "#404040", "labelPadding": 7}},
     "x2": {"field": "end"},
     "y": {"field": "comp", "type": "nominal", "scale": {"type": "point", "domain": ["Act v US", "Act v 8-EMG", "Act v 5-EMG", "US v 8-EMG", "US v 5-EMG", "8-EMG v 5-EMG"], "padding": 1}, "axis": {"title": null, "grid": true, "gridColor": "#d8d8d8", "domain": true, "domainColor": "#9a9a9a", "ticks": true, "tickSize": -3, "tickColor": "#9a9a9a", "labelPadding": 6}},
     "stroke": {"field": "comp", "type": "nominal", "legend": null, "scale": {"domain": ["Act v US", "Act v 8-EMG", "Act v 5-EMG", "US v 8-EMG", "US v 5-EMG", "8-EMG v 5-EMG"], "range": ["#0000ff", "#00ff00", "#ff0000", "#000000", "#000000", "#000000"]}}
   }},
  {"width": 170, "height": 83, "view": {"stroke": null},
   "data": {"name": "sig"}, "transform": [{"filter": "datum.panel === 'Level'"}],
   "mark": {"type": "rule", "strokeWidth": 2.5},
   "encoding": {
     "x": {"field": "start", "type": "quantitative", "scale": {"domain": [0, 100], "nice": false}, "axis": {"values": [0, 20, 40, 60, 80, 100], "tickCount": 20, "title": "% of Gait Cycle", "titlePadding": 2, "domain": true, "domainColor": "#404040", "ticks": true, "tickSize": -3, "tickColor": "#404040", "labelPadding": 7}},
     "x2": {"field": "end"},
     "y": {"field": "comp", "type": "nominal", "scale": {"type": "point", "domain": ["Act v US", "Act v 8-EMG", "Act v 5-EMG", "US v 8-EMG", "US v 5-EMG", "8-EMG v 5-EMG"], "padding": 1}, "axis": {"title": null, "labels": false, "grid": true, "gridColor": "#d8d8d8", "domain": true, "domainColor": "#9a9a9a", "ticks": true, "tickSize": -3, "tickColor": "#9a9a9a"}},
     "stroke": {"field": "comp", "type": "nominal", "legend": null}
   }},
  {"width": 165, "height": 83, "view": {"stroke": null},
   "data": {"name": "sig"}, "transform": [{"filter": "datum.panel === 'Decline'"}],
   "mark": {"type": "rule", "strokeWidth": 2.5},
   "encoding": {
     "x": {"field": "start", "type": "quantitative", "scale": {"domain": [0, 100], "nice": false}, "axis": {"values": [0, 20, 40, 60, 80, 100], "tickCount": 20, "title": "% of Gait Cycle", "titlePadding": 2, "domain": true, "domainColor": "#404040", "ticks": true, "tickSize": -3, "tickColor": "#404040", "labelPadding": 7}},
     "x2": {"field": "end"},
     "y": {"field": "comp", "type": "nominal", "scale": {"type": "point", "domain": ["Act v US", "Act v 8-EMG", "Act v 5-EMG", "US v 8-EMG", "US v 5-EMG", "8-EMG v 5-EMG"], "padding": 1}, "axis": {"title": null, "labels": false, "grid": true, "gridColor": "#d8d8d8", "domain": true, "domainColor": "#9a9a9a", "ticks": true, "tickSize": -3, "tickColor": "#9a9a9a"}},
     "stroke": {"field": "comp", "type": "nominal", "legend": null}
   }}
]
}
